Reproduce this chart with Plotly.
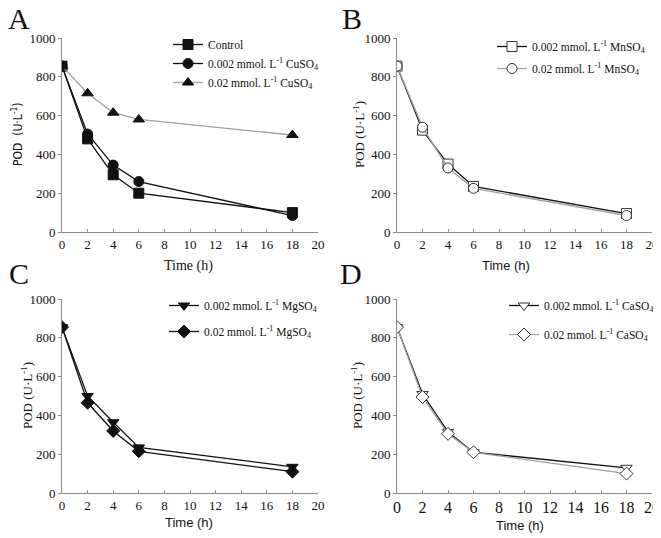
import plotly.graph_objects as go

# Datos
time_h = [0, 2, 4, 6, 18]

# Panel A (CuSO4)
control = [855, 480, 295, 200, 100]
cu_002 = [855, 505, 345, 260, 85]
cu_02 = [855, 715, 615, 580, 500]

# Panel B (MnSO4)
mn_002 = [855, 525, 350, 235, 95]
mn_02 = [855, 540, 330, 225, 85]

# Panel C (MgSO4)
mg_002 = [855, 500, 365, 235, 135]
mg_02 = [855, 465, 320, 215, 110]

# Panel D (CaSO4)
ca_002 = [855, 510, 315, 210, 130]
ca_02 = [855, 495, 305, 210, 100]

x_ticks = list(range(0, 21, 2))
y_ticks = list(range(0, 1001, 200))

# La página deja un margen de 8 px; la figura ocupa el resto de la ventana
OFF = 8
W, H = 661 - OFF, 538 - OFF
SERIF = "Times New Roman, Liberation Serif, serif"
SANS = "Arial, Liberation Sans, sans-serif"
BLACK = "#111111"
GRAY = "#a0a0a0"
AXIS = "#8c8c8c"


def px_x(p):
    return (p - OFF) / W


def px_y(p):
    return 1 - (p - OFF) / H


# Dominios de los paneles en píxeles de pantalla (izquierda, derecha, arriba, abajo)
panels = {
    "A": (62, 318, 38, 232),
    "B": (397, 652, 38, 232),
    "C": (62, 318, 299, 493),
    "D": (397, 652, 299, 493),
}

fig = go.Figure()


def add_series(y, name, axis_n, symbol, line_color, legend, fill=True):
    fig.add_trace(go.Scatter(
        x=time_h, y=y, name=name, mode="lines+markers",
        xaxis="x" if axis_n == 1 else f"x{axis_n}",
        yaxis="y" if axis_n == 1 else f"y{axis_n}",
        legend=legend, legendgroup=name,
        line=dict(color=line_color, width=1.3),
        marker=dict(symbol=symbol, size=10,
                    color=BLACK if fill else "white",
                    line=dict(color=BLACK if fill else "#333333", width=1)),
    ))


def conc(c):
    return f"{c} mmol. L<sup>-1</sup> "


add_series(control, "Control", 1, "square", BLACK, "legend")
add_series(cu_002, conc("0.002") + "CuSO<sub>4</sub>", 1, "circle", BLACK, "legend")
add_series(cu_02, conc("0.02") + "CuSO<sub>4</sub>", 1, "triangle-up", GRAY, "legend")

add_series(mn_002, conc("0.002") + "MnSO<sub>4</sub>", 2, "square", BLACK, "legend2", fill=False)
add_series(mn_02, conc("0.02") + "MnSO<sub>4</sub>", 2, "circle", GRAY, "legend2", fill=False)

add_series(mg_002, conc("0.002") + "MgSO<sub>4</sub>", 3, "triangle-down", BLACK, "legend3")
add_series(mg_02, conc("0.02") + "MgSO<sub>4</sub>", 3, "diamond", BLACK, "legend3")

add_series(ca_002, conc("0.002") + "CaSO<sub>4</sub>", 4, "triangle-down", BLACK, "legend4", fill=False)
add_series(ca_02, conc("0.02") + "CaSO<sub>4</sub>", 4, "diamond", GRAY, "legend4", fill=False)

layout = dict(
    width=W, height=H,
    margin=dict(l=0, r=0, t=0, b=0, autoexpand=False),
    paper_bgcolor="white", plot_bgcolor="white",
    font=dict(family=SERIF, size=13, color=BLACK),
)

for i, key in enumerate(["A", "B", "C", "D"], start=1):
    l, r, t, b = panels[key]
    sfx = "" if i == 1 else str(i)
    tick_size = 16 if key == "D" else 13
    layout[f"xaxis{sfx}"] = dict(
        domain=[px_x(l), px_x(r)], anchor=f"y{sfx}", range=[0, 20],
        tickvals=x_ticks, ticks="inside", ticklen=3, tickcolor=AXIS,
        showline=True, linecolor=AXIS, linewidth=1, showgrid=False, zeroline=False,
        tickfont=dict(family=SERIF, size=tick_size, color=BLACK),
    )
    layout[f"yaxis{sfx}"] = dict(
        domain=[px_y(b), px_y(t)], anchor=f"x{sfx}", range=[0, 1000],
        tickvals=y_ticks, ticks="outside", ticklen=3, tickcolor=AXIS,
        showline=True, linecolor=AXIS, linewidth=1, showgrid=False, zeroline=False,
        tickfont=dict(family=SERIF, size=13, color=BLACK),
    )

legend_style = dict(bgcolor="rgba(0,0,0,0)", xanchor="left", yanchor="top",
                    font=dict(family=SERIF, size=11.5, color=BLACK), itemwidth=30)
layout["legend"] = dict(x=px_x(168), y=px_y(30), tracegroupgap=0, **legend_style)
layout["legend2"] = dict(x=px_x(492), y=px_y(32), tracegroupgap=3, **legend_style)
layout["legend3"] = dict(x=px_x(164), y=px_y(291), tracegroupgap=7, **legend_style)
layout["legend4"] = dict(x=px_x(504), y=px_y(291), tracegroupgap=10, **legend_style)

fig.update_layout(**layout)


def note(text, x, y, font, angle=0):
    return dict(text=text, x=px_x(x), y=px_y(y), xref="paper", yref="paper",
                xanchor="center", yanchor="middle", showarrow=False,
                textangle=angle, font=font)


annotations = []
# Letras de los paneles
for letter, (ax, ay) in {"A": (19, 19), "B": (352, 19), "C": (19, 273), "D": (351, 273)}.items():
    annotations.append(note(letter, ax, ay, dict(family=SERIF, size=30, color=BLACK)))

# Títulos de los ejes
annotations.append(note("Time (h)", 188, 266, dict(family=SERIF, size=14, color=BLACK)))
annotations.append(note("Time (h)", 506, 265, dict(family=SANS, size=13, color=BLACK)))
annotations.append(note("Time (h)", 189, 522, dict(family=SANS, size=13, color=BLACK)))
annotations.append(note("Time (h)", 520, 525, dict(family=SANS, size=13, color=BLACK)))

annotations.append(note("POD  (U·L<sup>-1</sup>)", 17, 135,
                        dict(family="DejaVu Sans Condensed, DejaVu Sans, sans-serif", size=12,
                             color=BLACK), angle=-90))
for (ax, ay) in [(359, 135), (27, 396), (357, 396)]:
    annotations.append(note("POD (U·L<sup>-1</sup>)", ax, ay,
                            dict(family=SERIF, size=13, color=BLACK), angle=-90))

fig.update_layout(annotations=annotations)

fig.write_html("out.html")
